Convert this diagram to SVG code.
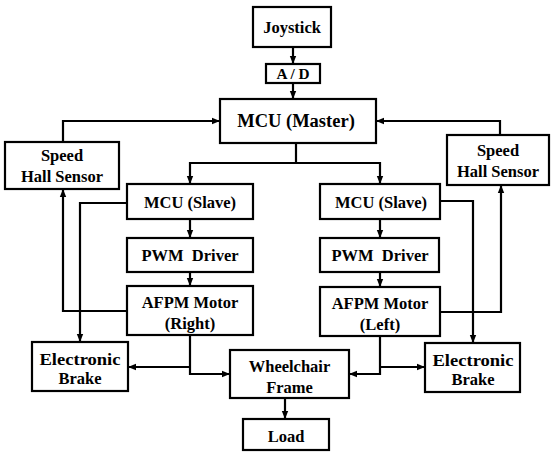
<svg xmlns="http://www.w3.org/2000/svg" width="552" height="452" viewBox="0 0 552 452">
<defs>
<marker id="arr" markerUnits="userSpaceOnUse" markerWidth="9" markerHeight="8" refX="8" refY="4" orient="auto">
<path d="M0,0.8 L8,4 L0,7.2 z" fill="#000"/>
</marker>
<style>
.box{fill:#fff;stroke:#000;stroke-width:2.2}
.t{font-family:"Liberation Serif","Times New Roman",serif;font-weight:bold;font-size:16.5px;fill:#000;text-anchor:middle}
.big{font-size:18.5px}
.c{fill:none;stroke:#000;stroke-width:2.2}
.a{marker-end:url(#arr)}
</style>
</defs>
<rect width="552" height="452" fill="#fff"/>
<g id="connectors">
<path class="c a" d="M293,47 V64"/>
<path class="c a" d="M293,83 V99"/>
<path class="c a" d="M63,142 V121 H220"/>
<path class="c a" d="M500,135 V121 H376"/>
<path class="c" d="M296,143 V163"/>
<path class="c a" d="M296,163 H190 V184"/>
<path class="c a" d="M296,163 H380 V184"/>
<path class="c a" d="M190,219 V238"/>
<path class="c a" d="M380,219 V238"/>
<path class="c a" d="M190,272 V286"/>
<path class="c a" d="M380,272 V287"/>
<path class="c a" d="M127,203 H80 V342"/>
<path class="c a" d="M127,311 H63 V189"/>
<path class="c a" d="M440,201 H473 V343"/>
<path class="c a" d="M440,312 H501 V185"/>
<path class="c a" d="M190,335 V374 H230"/>
<path class="c a" d="M190,367 H128"/>
<path class="c a" d="M380,336 V374 H349"/>
<path class="c a" d="M380,367 H425"/>
<path class="c a" d="M285,398 V419"/>
</g>
<g id="joystick"><rect class="box" x="253" y="7" width="78" height="40"/><text class="t" x="292" y="32.5">Joystick</text></g>
<g id="ad"><rect class="box" x="266" y="64" width="54" height="19"/><text class="t" x="293" y="79" style="font-size:15.3px">A / D</text></g>
<g id="mcu-master"><rect class="box" x="220" y="99" width="156" height="44"/><text class="t big" x="296" y="126.5">MCU (Master)</text></g>
<g id="speed-left"><rect class="box" x="5" y="142" width="114" height="47"/><text class="t" x="62" y="161">Speed</text><text class="t" x="62" y="182">Hall Sensor</text></g>
<g id="speed-right"><rect class="box" x="447" y="135" width="102" height="50"/><text class="t" x="498" y="156">Speed</text><text class="t" x="498" y="176.5">Hall Sensor</text></g>
<g id="mcu-slave-left"><rect class="box" x="127" y="184" width="126" height="35"/><text class="t" x="190" y="207.5">MCU (Slave)</text></g>
<g id="mcu-slave-right"><rect class="box" x="320" y="184" width="120" height="35"/><text class="t" x="381" y="207.5">MCU (Slave)</text></g>
<g id="pwm-left"><rect class="box" x="127" y="238" width="126" height="34"/><text class="t" x="190" y="261">PWM&#160; Driver</text></g>
<g id="pwm-right"><rect class="box" x="320" y="238" width="119" height="34"/><text class="t" x="380" y="261">PWM&#160; Driver</text></g>
<g id="afpm-right"><rect class="box" x="127" y="286" width="126" height="49"/><text class="t" x="190" y="308">AFPM Motor</text><text class="t" x="190" y="329">(Right)</text></g>
<g id="afpm-left"><rect class="box" x="320" y="287" width="120" height="49"/><text class="t" x="380" y="309">AFPM Motor</text><text class="t" x="380" y="330">(Left)</text></g>
<g id="brake-left"><rect class="box" x="32" y="342" width="96" height="49"/><text class="t" x="80" y="364.5" textLength="81" lengthAdjust="spacingAndGlyphs">Electronic</text><text class="t" x="80" y="384">Brake</text></g>
<g id="brake-right"><rect class="box" x="425" y="343" width="95" height="49"/><text class="t" x="473" y="365.5" textLength="81" lengthAdjust="spacingAndGlyphs">Electronic</text><text class="t" x="473" y="385">Brake</text></g>
<g id="wheelchair-frame"><rect class="box" x="230" y="350" width="119" height="48"/><text class="t" x="289.5" y="372">Wheelchair</text><text class="t" x="289.5" y="392.5">Frame</text></g>
<g id="load"><rect class="box" x="243" y="419" width="86" height="31"/><text class="t" x="286" y="441.5">Load</text></g>
</svg>
